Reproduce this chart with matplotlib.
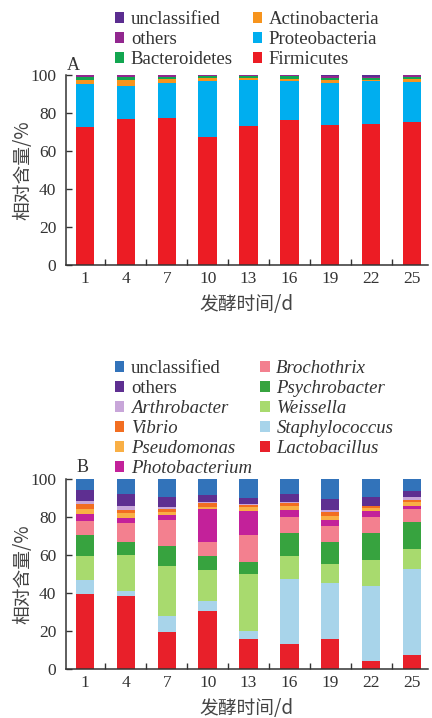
import matplotlib
matplotlib.use("Agg")
import matplotlib.pyplot as plt
from matplotlib.patches import Patch
from matplotlib.ticker import FixedLocator
import numpy as np

# ---- data ----
days = ["1", "4", "7", "10", "13", "16", "19", "22", "25"]

# Panel A: phylum level (bottom to top)
phyla = ["Firmicutes", "Proteobacteria", "Actinobacteria", "Bacteroidetes", "others", "unclassified"]
firmicutes     = [72.8, 76.8, 77.4, 67.2, 73.4, 76.2, 73.6, 74.0, 75.4]
proteobacteria = [22.6, 17.4, 18.2, 29.8, 24.2, 20.8, 22.0, 22.6, 20.8]
actinobacteria = [2.0, 3.4, 2.4, 1.4, 0.8, 1.0, 1.6, 1.0, 1.8]
bacteroidetes  = [1.6, 1.2, 1.2, 1.0, 1.0, 1.4, 1.2, 1.0, 1.2]
others_a       = [0.8, 1.0, 0.6, 0.4, 0.4, 0.4, 1.2, 0.4, 0.6]
unclass_a      = [0.2, 0.2, 0.2, 0.2, 0.2, 0.2, 0.4, 1.0, 0.2]

# Panel B: genus level (bottom to top)
genera = ["Lactobacillus", "Staphylococcus", "Weissella", "Psychrobacter", "Brochothrix",
          "Photobacterium", "Pseudomonas", "Vibrio", "Arthrobacter", "others", "unclassified"]
lactobacillus  = [39.4, 38.2, 19.3, 30.3, 15.9, 13.3, 15.9, 4.0, 7.4]
staphylococcus = [7.5, 3.1, 8.4, 5.3, 3.9, 34.3, 29.6, 39.8, 45.1]
weissella      = [12.6, 18.6, 26.6, 16.6, 30.3, 11.9, 9.8, 13.6, 10.5]
psychrobacter  = [10.9, 7.2, 10.7, 7.3, 6.3, 12.0, 11.8, 14.4, 14.6]
brochothrix    = [7.6, 9.7, 13.6, 7.3, 14.2, 8.4, 8.4, 8.1, 6.6]
photobacterium = [3.6, 2.7, 2.6, 17.4, 12.8, 4.0, 3.1, 3.5, 1.8]
pseudomonas    = [2.6, 2.6, 1.6, 1.3, 1.7, 1.7, 1.8, 1.2, 1.7]
vibrio         = [2.7, 1.8, 1.3, 1.7, 1.2, 1.7, 2.4, 1.0, 1.4]
arthrobacter   = [1.4, 2.1, 1.4, 0.5, 0.3, 0.4, 0.9, 0.4, 1.3]
others_b       = [5.9, 6.1, 5.2, 4.1, 3.4, 4.4, 5.8, 4.4, 3.5]
unclass_b      = [5.8, 7.9, 9.3, 8.2, 10.0, 7.9, 10.5, 9.6, 6.1]

# ---- styling ----
colors_a = ["#EC1C24", "#00AEEF", "#F7941D", "#12A650", "#92278F", "#5B2D90"]
colors_b = ["#E8202A", "#A8D4EA", "#A8DA6E", "#37A33F", "#F3808F", "#C3219A",
            "#F9AF45", "#F26E21", "#C8A6D9", "#5E2F91", "#3273BA"]

serif = ["Liberation Serif", "Noto Sans CJK SC"]
cjk = ["Noto Sans CJK SC", "Liberation Serif"]
txt_color = "#333333"
plt.rcParams["font.family"] = serif

TICK_FS = 12.5
LEG_FS = 13.5
CJK_FS = 13.5

W, H = 432, 718
fig = plt.figure(figsize=(W / 100, H / 100), dpi=100)


def px_axes(left, top, right, bottom):
    return fig.add_axes([left / W, 1 - bottom / H, (right - left) / W, (bottom - top) / H])


def style_axes(ax):
    x = np.arange(len(days))
    ax.set_xlim(-0.465, len(days) - 1 + 0.39)
    ax.set_ylim(0, 100)
    ax.set_yticks([0, 20, 40, 60, 80, 100])
    ax.set_xticks(x)
    ax.set_xticklabels(days)
    ax.xaxis.set_minor_locator(FixedLocator(x[:-1] + 0.5))
    ax.tick_params(axis="x", which="major", length=0, pad=4, labelsize=TICK_FS, labelcolor=txt_color)
    ax.tick_params(axis="x", which="minor", direction="in", length=4, width=1.0, color="#333333")
    ax.tick_params(axis="y", which="major", direction="in", length=4, width=1.0, pad=7,
                   labelsize=TICK_FS, labelcolor=txt_color, color="#333333")
    for s in ("top", "right"):
        ax.spines[s].set_visible(False)
    for s in ("left", "bottom"):
        ax.spines[s].set_linewidth(1.1)
        ax.spines[s].set_color("#333333")
    ax.set_ylabel("相对含量/%", family=cjk, fontsize=CJK_FS, color="#444444", labelpad=-2)
    ax.set_xlabel("发酵时间/d", family=cjk, fontsize=CJK_FS, color="#444444", labelpad=5.5)


def stacked(ax, series, colors):
    x = np.arange(len(days))
    bottom = np.zeros(len(days))
    for vals, c in zip(series, colors):
        v = np.array(vals)
        ax.bar(x, v, bottom=bottom, width=0.45, color=c, linewidth=0)
        bottom += v


legend_kw = dict(loc="upper left", frameon=False, fontsize=LEG_FS, borderpad=0, borderaxespad=0,
                 handlelength=0.5, handleheight=0.5, handletextpad=0.35,
                 labelspacing=0.16, labelcolor=txt_color)

# Panel A
axA = px_axes(66, 75, 428, 265)
stacked(axA, [firmicutes, proteobacteria, actinobacteria, bacteroidetes, others_a, unclass_a], colors_a)
style_axes(axA)
fig.text(67 / W, 1 - 65 / H, "A", fontsize=13, color=txt_color, va="center", ha="left")

order_a = [5, 4, 3, 2, 1, 0]
handles_a = [Patch(facecolor=colors_a[i], edgecolor="none") for i in order_a]
labels_a = [phyla[i] for i in order_a]
fig.legend(handles_a, labels_a, ncol=2, bbox_to_anchor=(115 / W, 1 - 11 / H),
           columnspacing=1.05, **legend_kw)

# Panel B
axB = px_axes(66, 479, 428, 669)
stacked(axB, [lactobacillus, staphylococcus, weissella, psychrobacter, brochothrix, photobacterium,
              pseudomonas, vibrio, arthrobacter, others_b, unclass_b], colors_b)
style_axes(axB)
fig.text(77 / W, 1 - 468 / H, "B", fontsize=13, color=txt_color, va="center", ha="left")

order_b = [10, 9, 8, 7, 6, 5, 4, 3, 2, 1, 0]
handles_b = [Patch(facecolor=colors_b[i], edgecolor="none") for i in order_b]
labels_b = [genera[i] for i in order_b]
legB = fig.legend(handles_b, labels_b, ncol=2, bbox_to_anchor=(115 / W, 1 - 360 / H),
                  columnspacing=0.45, **legend_kw)
for t in legB.get_texts():
    if t.get_text() not in ("others", "unclassified"):
        t.set_style("italic")

fig.savefig("out.png", dpi=100)
